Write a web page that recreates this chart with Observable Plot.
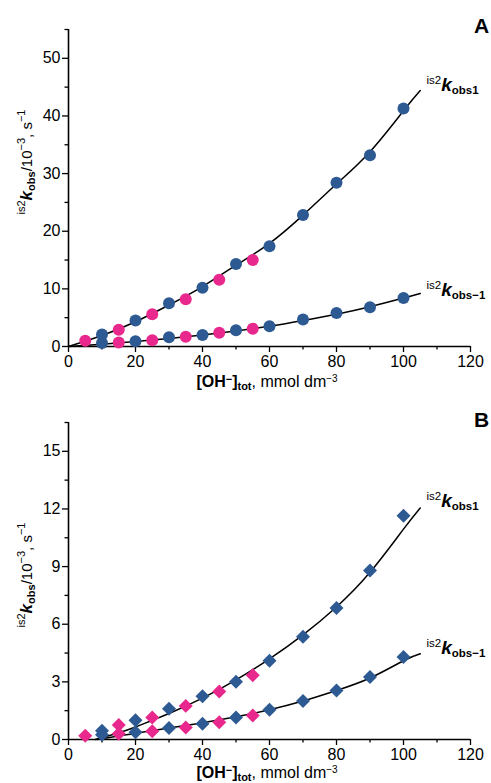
<!DOCTYPE html>
<html><head><meta charset="utf-8">
<script src="https://cdn.jsdelivr.net/npm/d3@7"></script>
<script src="https://cdn.jsdelivr.net/npm/@observablehq/plot@0.6"></script>
<style>
html,body{margin:0;padding:0;background:#fff;}
#chart{position:relative;width:491px;height:783px;font-family:"Liberation Sans",Arial,Helvetica,sans-serif;}
#chart svg{display:block;}
</style></head><body><div id="chart"></div>
<script>
// ---------- data ----------
const xBlue = [10, 20, 30, 40, 50, 60, 70, 80, 90, 100];
const xPink1 = [5, 15, 25, 35, 45, 55];
const xPink2 = [15, 25, 35, 45, 55];

// Panel A (circles)
const aObs1Blue = [2.1, 4.5, 7.5, 10.2, 14.3, 17.4, 22.8, 28.4, 33.2, 41.3];
const aObs1Pink = [1.0, 2.9, 5.6, 8.2, 11.6, 15.0];
const aObsM1Blue = [0.6, 0.9, 1.6, 2.0, 2.8, 3.5, 4.7, 5.8, 6.8, 8.4];
const aObsM1Pink = [0.7, 1.1, 1.7, 2.4, 3.1];
const aFitX = [0, 10, 20, 30, 40, 50, 60, 70, 80, 90, 100, 105];
const aFit1 = [0, 1.9, 4.3, 7.2, 10.4, 14.1, 17.9, 22.8, 28.2, 33.8, 40.9, 44.4];
const aFitM1 = [0, 0.4, 0.85, 1.4, 2.0, 2.7, 3.5, 4.5, 5.6, 6.9, 8.4, 9.2];

// Panel B (diamonds)
const bObs1Blue = [0.45, 1.0, 1.6, 2.25, 3.0, 4.1, 5.35, 6.85, 8.8, 11.65];
const bObs1Pink = [0.2, 0.75, 1.15, 1.75, 2.5, 3.35];
const bObsM1Blue = [0.25, 0.38, 0.6, 0.82, 1.15, 1.55, 2.0, 2.55, 3.25, 4.3];
const bObsM1Pink = [0.3, 0.43, 0.63, 0.9, 1.25];
const bFit1X = [8, 15, 20, 25, 30, 40, 50, 60, 70, 80, 90, 100, 105];
const bFit1 = [0, 0.35, 0.65, 1.0, 1.35, 2.15, 3.1, 4.2, 5.45, 6.9, 8.7, 10.95, 12.05];
const bFitM1X = [8.5, 15, 20, 30, 40, 50, 60, 70, 80, 90, 100, 105];
const bFitM1 = [0, 0.18, 0.33, 0.6, 0.87, 1.18, 1.55, 2.0, 2.55, 3.2, 4.1, 4.46];

const xMajor = [0, 20, 40, 60, 80, 100, 120];
const xMinor = [10, 30, 50, 70, 90, 110];
const aYMajor = [0, 10, 20, 30, 40, 50];
const aYMinor = [5, 15, 25, 35, 45, 55];
const bYMajor = [0, 3, 6, 9, 12, 15];
const bYMinor = [1.5, 4.5, 7.5, 10.5, 13.5, 16.5];

const BLUE = "#2d5a92";
const PINK = "#e8288c";
const FONT = "Liberation Sans, Arial, Helvetica, sans-serif";

const pts = (xs, ys) => xs.map((x, i) => ({x, y: ys[i]}));

function rich(svg, x, y, parts, attrs = {}) {
  const t = d3.select(svg).append("text").attr("x", x).attr("y", y)
    .attr("font-family", FONT).attr("fill", "#000").attr("text-anchor", "start");
  for (const [k, v] of Object.entries(attrs)) t.attr(k, v);
  let cur = 0;
  for (const p of parts) {
    const s = t.append("tspan").text(p.t).attr("font-size", p.size);
    if (p.bold) s.attr("font-weight", "bold");
    if (p.italic) s.attr("font-style", "italic");
    const sh = p.shift || 0;
    s.attr("dy", sh - cur);
    cur = sh;
  }
  return t;
}

function panel(opt) {
  const symbol = opt.diamond ? (d3.symbolDiamond2 || "diamond") : "circle";
  const r = opt.diamond ? 6.3 : 6;
  const p = Plot.plot({
    width: 491, height: opt.height,
    marginLeft: 68, marginRight: 21, marginTop: opt.mt, marginBottom: opt.mb,
    x: {domain: [0, 120]},
    y: {domain: [0, opt.yMax]},
    style: {fontFamily: FONT, fontSize: "16px", color: "#000", background: "#fff", overflow: "visible"},
    marks: [
      Plot.axisX({ticks: xMajor, tickSize: 6, tickPadding: 3, label: null, strokeWidth: 1.3, fontSize: 16}),
      Plot.axisX({ticks: xMinor, tickSize: 3.5, text: null, label: null, strokeWidth: 1.3}),
      Plot.axisY({ticks: opt.yMajor, tickSize: 6, tickPadding: 2, label: null, strokeWidth: 1.3, fontSize: 16}),
      Plot.axisY({ticks: opt.yMinor, tickSize: 3.5, text: null, label: null, strokeWidth: 1.3}),
      Plot.ruleY([0], {stroke: "#000", strokeWidth: 1.6}),
      Plot.ruleX([0], {stroke: "#000", strokeWidth: 1.6}),
      Plot.line(pts(opt.fit1X, opt.fit1), {x: "x", y: "y", curve: "natural", stroke: "#000", strokeWidth: 1.5}),
      Plot.line(pts(opt.fitM1X, opt.fitM1), {x: "x", y: "y", curve: "natural", stroke: "#000", strokeWidth: 1.5}),
      Plot.dot(pts(xBlue, opt.obs1Blue), {x: "x", y: "y", r, symbol, fill: BLUE}),
      Plot.dot(pts(xBlue, opt.obsM1Blue), {x: "x", y: "y", r, symbol, fill: BLUE}),
      Plot.dot(pts(xPink1, opt.obs1Pink), {x: "x", y: "y", r, symbol, fill: PINK}),
      Plot.dot(pts(xPink2, opt.obsM1Pink), {x: "x", y: "y", r, symbol, fill: PINK})
    ]
  });
  const sx = p.scale("x"), sy = p.scale("y");
  const seriesLabel = (xv, yv, sub) => rich(p, sx.apply(xv), sy.apply(yv), [
    {t: "is2", size: 11.5, shift: -7},
    {t: "k", size: 19, bold: true, italic: true, shift: 0},
    {t: sub, size: 11.5, bold: true, shift: 3}
  ]);
  seriesLabel(107, opt.lab1, "obs1");
  seriesLabel(107, opt.labM1, "obs\u22121");
  // y-axis title
  rich(p, 0, 0, [
    {t: "is2", size: 11, shift: -7},
    {t: "k", size: 17, bold: true, italic: true, shift: 0},
    {t: "obs", size: 11, bold: true, shift: 3},
    {t: "/10", size: 15, shift: 0},
    {t: "\u22123", size: 11, shift: -7},
    {t: ", s", size: 15, shift: 0},
    {t: "\u22121", size: 11, shift: -7}
  ], {"text-anchor": "middle", transform: `translate(32,${opt.yTitle}) rotate(-90)`});
  // x-axis title
  const axisY = sy.apply(0);
  rich(p, 267, axisY + opt.xTitleOff, [
    {t: "[OH", size: 16, bold: true, shift: 0},
    {t: "\u2212", size: 11, bold: true, shift: -4},
    {t: "]", size: 16, bold: true, shift: 0},
    {t: "tot", size: 11, bold: true, shift: 3},
    {t: ", mmol dm", size: 16, shift: 0},
    {t: "\u22123", size: 10, shift: -5}
  ], {"text-anchor": "middle"});
  // panel letter
  rich(p, 474, opt.letterY, [{t: opt.letter, size: 21, bold: true}]);
  return p;
}

const chart = document.getElementById("chart");
chart.append(panel({
  height: 392, mt: 29, mb: 46, yMax: 55, yMajor: aYMajor, yMinor: aYMinor,
  fit1X: aFitX, fit1: aFit1, fitM1X: aFitX, fitM1: aFitM1,
  obs1Blue: aObs1Blue, obs1Pink: aObs1Pink, obsM1Blue: aObsM1Blue, obsM1Pink: aObsM1Pink,
  lab1: 44.3, labM1: 8.6, yTitle: 162, letter: "A", letterY: 33, xTitleOff: 41
}));
chart.append(panel({
  diamond: true,
  height: 391, mt: 30, mb: 44, yMax: 16.5, yMajor: bYMajor, yMinor: bYMinor,
  fit1X: bFit1X, fit1: bFit1, fitM1X: bFitM1X, fitM1: bFitM1,
  obs1Blue: bObs1Blue, obs1Pink: bObs1Pink, obsM1Blue: bObsM1Blue, obsM1Pink: bObsM1Pink,
  lab1: 12.1, labM1: 4.4, yTitle: 183, letter: "B", letterY: 35, xTitleOff: 39
}));
</script></body></html>
